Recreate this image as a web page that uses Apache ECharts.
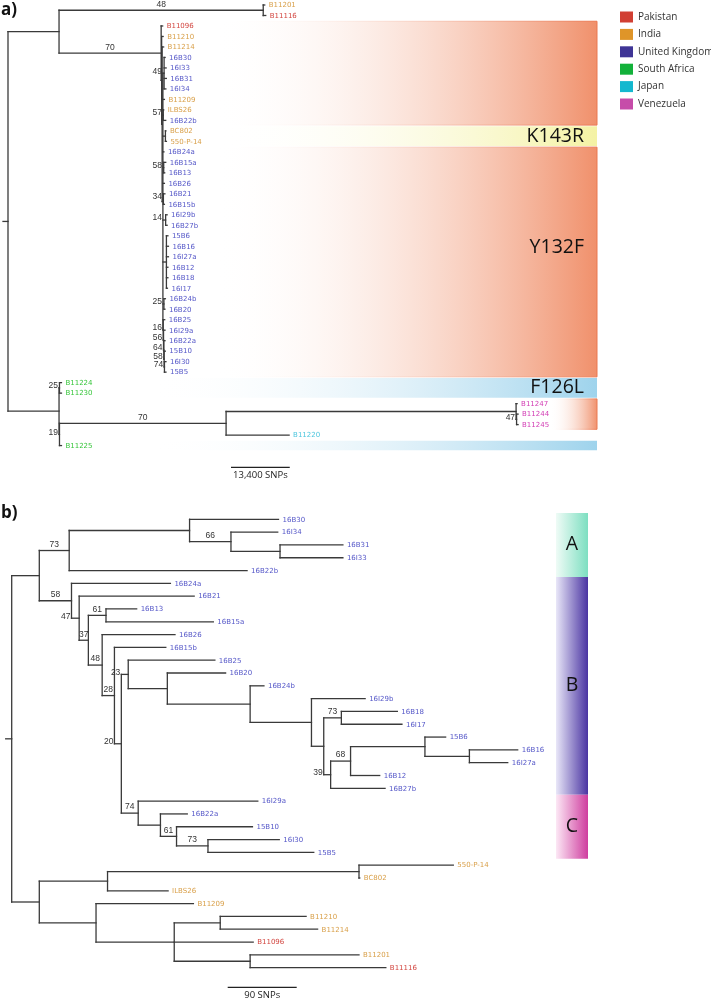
<!DOCTYPE html>
<html>
<head>
<meta charset="utf-8">
<script src="https://cdn.jsdelivr.net/npm/echarts@6/dist/echarts.min.js"></script>
<style>
html,body{margin:0;padding:0;background:#ffffff;}
#chart{width:711px;height:1001px;}
</style>
</head>
<body>
<div id="chart"></div>
<script>
// ================= DATA =================
const countries = ['Pakistan', 'India', 'United Kingdom', 'South Africa', 'Japan', 'Venezuela'];

const samplesPakistan = ['B11096', 'B11116'];
const samplesIndia = ['B11201', 'B11210', 'B11214', 'B11209', 'ILBS26', 'BC802', '550-P-14'];
const samplesUK = ['16B30', '16I33', '16B31', '16I34', '16B22b', '16B24a', '16B15a', '16B13', '16B26',
  '16B21', '16B15b', '16I29b', '16B27b', '15B6', '16B16', '16I27a', '16B12', '16B18', '16I17',
  '16B24b', '16B20', '16B25', '16I29a', '16B22a', '15B10', '16I30', '15B5'];
const samplesSouthAfrica = ['B11224', 'B11230', 'B11225'];
const samplesJapan = ['B11220'];
const samplesVenezuela = ['B11247', 'B11244', 'B11245'];

// Tree a) : [node, parent, branch length (SNPs), bootstrap support]
const treeA_edges = [
  ['A1', 'rootA', 11640], ['A2', 'A1', 46570, 48], ['B11201', 'A2', 340], ['B11116', 'A2', 570],
  ['X', 'A1', 23290, 70], ['B11096', 'X', 340], ['Z', 'X', 110], ['B11210', 'Z', 340], ['W', 'Z', 110],
  ['B11214', 'W', 340], ['V', 'W', 180],
  ['c49', 'V', 270, 49], ['16B30', 'c49', 230], ['16I33', 'c49', 460], ['16B31', 'c49', 520], ['16I34', 'c49', 400],
  ['B11209', 'V', 340],
  ['c57', 'V', 70, 57], ['ILBS26', 'c57', 110], ['16B22b', 'c57', 570],
  ['cK', 'V', 570], ['BC802', 'cK', 110], ['550-P-14', 'cK', 230],
  ['16B24a', 'V', 230],
  ['c58', 'V', 180, 58], ['16B15a', 'c58', 460], ['16B13', 'c58', 230],
  ['16B26', 'V', 340],
  ['c34', 'V', 110, 34], ['16B21', 'c34', 340], ['16B15b', 'c34', 230],
  ['c14', 'V', 620, 14], ['16I29b', 'c14', 340], ['16B27b', 'c14', 340],
  ['cM', 'V', 800], ['15B6', 'cM', 340], ['16B16', 'cM', 460], ['16I27a', 'cM', 460], ['16B12', 'cM', 340],
  ['16B18', 'cM', 340], ['16I17', 'cM', 230],
  ['c25', 'V', 230, 25], ['16B24b', 'c25', 340], ['16B20', 'c25', 230],
  ['c16', 'V', 70, 16], ['16B25', 'c16', 340],
  ['c56', 'c16', 70, 56], ['16I29a', 'c56', 340],
  ['c64', 'c56', 70, 64], ['16B22a', 'c64', 270],
  ['c58b', 'c64', 70, 58], ['15B10', 'c58b', 270],
  ['c74', 'c58b', 70, 74], ['16I30', 'c74', 340], ['15B5', 'c74', 340],
  ['N', 'rootA', 11640],
  ['cSA', 'N', 100, 25], ['B11224', 'cSA', 450], ['B11230', 'cSA', 450],
  ['N2', 'N', 100, 19],
  ['JV', 'N2', 38000, 70],
  ['cV', 'JV', 66140], ['B11247', 'cV', 230], ['cV2', 'cV', 110, 47], ['B11244', 'cV2', 340], ['B11245', 'cV2', 340],
  ['B11220', 'JV', 14370],
  ['B11225', 'N2', 450]
];

// Tree b) : [node, parent, branch length (SNPs), bootstrap support]
const treeB_edges = [
  ['B1', 'rootB', 36], ['B2', 'B1', 39, 73], ['B3', 'B2', 157], ['16B30', 'B3', 116],
  ['B4', 'B3', 54, 66], ['16I34', 'B4', 61], ['B5', 'B4', 64], ['16B31', 'B5', 82], ['16I33', 'B5', 82],
  ['16B22b', 'B2', 232],
  ['B6', 'B1', 42, 58], ['16B24a', 'B6', 129], ['B7', 'B6', 10, 47], ['16B21', 'B7', 150],
  ['B8', 'B7', 12, 37], ['B9', 'B8', 23, 61], ['16B13', 'B9', 40], ['16B15a', 'B9', 140],
  ['B10', 'B8', 18, 48], ['16B26', 'B10', 95], ['B11', 'B10', 16, 28], ['16B15b', 'B11', 67],
  ['B12', 'B11', 9, 20], ['B13', 'B12', 9, 23], ['16B25', 'B13', 113], ['B14', 'B13', 51],
  ['16B20', 'B14', 76], ['B15', 'B14', 108], ['16B24b', 'B15', 18], ['B16', 'B15', 80],
  ['16I29b', 'B16', 70], ['B17', 'B16', 16], ['B18', 'B17', 23, 73], ['16B18', 'B18', 73], ['16I17', 'B18', 79],
  ['B19', 'B17', 9, 39], ['B20', 'B19', 26, 68], ['B21', 'B20', 97], ['15B6', 'B21', 27], ['B22', 'B21', 58],
  ['16B16', 'B22', 63], ['16I27a', 'B22', 50], ['16B12', 'B20', 38], ['16B27b', 'B19', 71],
  ['B23', 'B12', 22, 74], ['16I29a', 'B23', 156], ['B24', 'B23', 29], ['16B22a', 'B24', 35],
  ['B25', 'B24', 21, 61], ['15B10', 'B25', 99], ['B26', 'B25', 41, 73], ['16I30', 'B26', 93], ['15B5', 'B26', 138],
  ['B30', 'rootB', 36], ['B31', 'B30', 89], ['B32', 'B31', 328], ['550-P-14', 'B32', 123], ['BC802', 'B32', 1],
  ['ILBS26', 'B31', 79], ['B33', 'B30', 74], ['B11209', 'B33', 127], ['B34', 'B33', 102],
  ['B35', 'B34', 60], ['B11210', 'B35', 112], ['B11214', 'B35', 127], ['B11096', 'B34', 103],
  ['B36', 'B34', 99], ['B11201', 'B36', 142], ['B11116', 'B36', 177]
];

const scaleBarA = 13400;   // SNPs
const scaleBarB = 90;      // SNPs

// mutation blocks in tree a): [mutation, first sample, last sample]
const mutationBands = [
  ['Y132F', 'B11096', '16B22b'],
  ['K143R', 'BC802', '550-P-14'],
  ['Y132F', '16B24a', '15B5'],
  ['F126L', 'B11224', 'B11230'],
  ['Y132F', 'B11247', 'B11245'],
  ['F126L', 'B11225', 'B11225']
];
const mutationLabelShown = [false, true, true, true, false, false];

// clades in tree b): [clade, first sample, last sample]
const cladeBars = [
  ['A', '16B30', '16B22b'],
  ['B', '16B24a', '16B27b'],
  ['C', '16I29a', '15B5']
];

// ================= STYLE / LAYOUT =================
const countryColors = ['#d13f33', '#df9529', '#3f3596', '#12b13a', '#14b8cf', '#c64ca9'];
const labelColors = ['#d2453f', '#d9a04a', '#5557c8', '#38c63c', '#4ec6de', '#d23cb4'];
const LAY = {
  a: { left: 8, top: 5, rowH: 10.49, snpPerPx: 228.07, xMax: 135000, stubPx: 5 },
  b: { left: 11.7, top: 519.3, rowH: 12.81, snpPerPx: 90 / 69, xMax: 760, stubPx: 6 }
};
const bandStartPx = [215, 215, 215, 150, 550, 150];
const bandEndPx = 597;
const bandStyle = {
  'Y132F': { fill: '#f0906b', stroke: '#ea774f' },
  'K143R': { fill: '#f4f2a4', stroke: null },
  'F126L': { fill: '#9ed3ec', stroke: null }
};
const bandLabelDy = [0, 0, -15, 0, 0, 0];
const cladePx = [556, 588];
const cladeColors = { A: ['#effbf6', '#7ddfc1'], B: ['#e9e7f8', '#4a34a2'], C: ['#fce8f5', '#cf3d9f'] };
const BRANCH = '#3a3a3a';
const LEAF_FONT = '7px "DejaVu Sans"';
const SUP_FONT = '8.5px "Liberation Sans", Arial, sans-serif';

// ================= BUILD =================
const sampleCountry = {};
[samplesPakistan, samplesIndia, samplesUK, samplesSouthAfrica, samplesJapan, samplesVenezuela]
  .forEach((arr, ci) => arr.forEach(s => { sampleCountry[s] = ci; }));

function layoutTree(edges, rootId) {
  const children = {}, len = {}, sup = {}, parent = {};
  edges.forEach(e => {
    const [c, p, l, s] = e;
    (children[p] = children[p] || []).push(c);
    len[c] = l; parent[c] = p;
    if (s != null) sup[c] = s;
  });
  const x = {}, y = {}, leaves = [];
  let k = 0;
  (function walk(n, d) {
    x[n] = d;
    const ch = children[n];
    if (!ch) { y[n] = k++; leaves.push(n); return; }
    ch.forEach(c => walk(c, d + len[c]));
    y[n] = (y[ch[0]] + y[ch[ch.length - 1]]) / 2;
  })(rootId, 0);
  return { children, len, sup, parent, x, y, leaves, root: rootId };
}

const TA = layoutTree(treeA_edges, 'rootA');
const TB = layoutTree(treeB_edges, 'rootB');

function segmentsOf(T, L) {
  const segs = [];
  Object.keys(T.children).forEach(n => {
    const ch = T.children[n];
    segs.push([T.x[n], T.y[ch[0]], T.x[n], T.y[ch[ch.length - 1]]]);
    ch.forEach(c => segs.push([T.x[n], T.y[c], T.x[c], T.y[c]]));
  });
  segs.push([-L.stubPx * L.snpPerPx, T.y[T.root], 0, T.y[T.root]]);
  return segs;
}

function leafTexts(T) {
  return T.leaves.map(l => ({
    x: T.x[l], y: T.y[l], text: l, color: labelColors[sampleCountry[l]],
    font: LEAF_FONT, align: 'left', dx: 4, dy: 0.5
  }));
}

function supportTexts(T, L) {
  const out = [];
  Object.keys(T.sup).forEach(c => {
    const p = T.parent[c];
    const bpx = T.len[c] / L.snpPerPx;
    if (bpx >= 8.5) {
      out.push({ x: (T.x[p] + T.x[c]) / 2, y: T.y[c], text: String(T.sup[c]), color: '#333',
        font: SUP_FONT, align: 'center', dx: 0, dy: -6 });
    } else {
      out.push({ x: T.x[p], y: T.y[c], text: String(T.sup[c]), color: '#333',
        font: SUP_FONT, align: 'right', dx: -1, dy: -2 });
    }
  });
  return out;
}

function lineSeries(gi, segs) {
  return {
    type: 'custom', xAxisIndex: gi, yAxisIndex: gi, silent: true, z: 3, clip: false,
    data: segs, encode: { x: [0, 2], y: [1, 3] },
    renderItem: (p, api) => {
      const a = api.coord([api.value(0), api.value(1)]);
      const b = api.coord([api.value(2), api.value(3)]);
      return { type: 'line', shape: { x1: a[0], y1: a[1], x2: b[0], y2: b[1] },
        style: { stroke: BRANCH, lineWidth: 1.3, lineCap: 'square' } };
    }
  };
}

function textSeries(gi, items) {
  return {
    type: 'custom', xAxisIndex: gi, yAxisIndex: gi, silent: true, z: 4, clip: false,
    data: items.map(t => [t.x, t.y]), encode: { x: 0, y: 1 },
    renderItem: (p, api) => {
      const t = items[p.dataIndex];
      const pt = api.coord([api.value(0), api.value(1)]);
      return { type: 'text', x: pt[0] + t.dx, y: pt[1] + t.dy,
        style: { text: t.text, fill: t.color, font: t.font, align: t.align, verticalAlign: 'middle' } };
    }
  };
}

function scaleBarSeries(gi, T, L, len, px0, py0) {
  const x0 = (px0 - L.left) * L.snpPerPx;
  const y0 = (py0 - L.top) / L.rowH;
  return {
    type: 'custom', xAxisIndex: gi, yAxisIndex: gi, silent: true, z: 4, clip: false,
    data: [[x0, y0, x0 + len, y0]], encode: { x: [0, 2], y: [1, 3] },
    renderItem: (p, api) => {
      const a = api.coord([api.value(0), api.value(1)]);
      const b = api.coord([api.value(2), api.value(3)]);
      return { type: 'group', children: [
        { type: 'line', shape: { x1: a[0], y1: a[1], x2: b[0], y2: b[1] }, style: { stroke: '#222', lineWidth: 1.2 } },
        { type: 'text', x: (a[0] + b[0]) / 2, y: a[1] + 8,
          style: { text: len.toLocaleString('en-US') + ' SNPs', fill: '#222', font: '9.5px "Open Sans"',
            align: 'center', verticalAlign: 'middle' } }
      ] };
    }
  };
}

function grad(c0, c1) {
  return { type: 'linear', x: 0, y: 0, x2: 1, y2: 0, global: false,
    colorStops: [{ offset: 0, color: c0 }, { offset: 1, color: c1 }] };
}

const LA = LAY.a, LB = LAY.b;
const bandSeries = {
  type: 'custom', xAxisIndex: 0, yAxisIndex: 0, silent: true, z: 1, clip: false,
  data: mutationBands.map((b, i) => [
    (bandStartPx[i] - LA.left) * LA.snpPerPx, TA.y[b[1]] - 0.45,
    (bandEndPx - LA.left) * LA.snpPerPx, TA.y[b[2]] + 0.45]),
  encode: { x: [0, 2], y: [1, 3] },
  renderItem: (p, api) => {
    const i = p.dataIndex, m = mutationBands[i][0], st = bandStyle[m];
    const a = api.coord([api.value(0), api.value(1)]);
    const b = api.coord([api.value(2), api.value(3)]);
    const kids = [{
      type: 'rect', shape: { x: a[0], y: a[1], width: b[0] - a[0], height: b[1] - a[1] },
      style: { fill: grad('rgba(255,255,255,0)', st.fill),
        stroke: st.stroke ? grad('rgba(255,255,255,0)', st.stroke) : null, lineWidth: 1 }
    }];
    if (mutationLabelShown[i]) {
      kids.push({ type: 'text', x: b[0] - 13, y: (a[1] + b[1]) / 2 + bandLabelDy[i],
        style: { text: m, fill: '#111', font: '19.5px "Open Sans"', align: 'right', verticalAlign: 'middle' } });
    }
    return { type: 'group', children: kids };
  }
};

const cladeSeries = {
  type: 'custom', xAxisIndex: 1, yAxisIndex: 1, silent: true, z: 1, clip: false,
  data: cladeBars.map(c => [
    (cladePx[0] - LB.left) * LB.snpPerPx, TB.y[c[1]] - 0.5,
    (cladePx[1] - LB.left) * LB.snpPerPx, TB.y[c[2]] + 0.5]),
  encode: { x: [0, 2], y: [1, 3] },
  renderItem: (p, api) => {
    const c = cladeBars[p.dataIndex][0], col = cladeColors[c];
    const a = api.coord([api.value(0), api.value(1)]);
    const b = api.coord([api.value(2), api.value(3)]);
    return { type: 'group', children: [
      { type: 'rect', shape: { x: a[0], y: a[1], width: b[0] - a[0], height: b[1] - a[1] },
        style: { fill: grad(col[0], col[1]) } },
      { type: 'text', x: (a[0] + b[0]) / 2, y: (a[1] + b[1]) / 2,
        style: { text: c, fill: '#111', font: '19.5px "Open Sans"', align: 'center', verticalAlign: 'middle' } }
    ] };
  }
};

const option = {
  animation: false,
  backgroundColor: '#ffffff',
  grid: [
    { left: LA.left, top: LA.top, width: LA.xMax / LA.snpPerPx, height: (TA.leaves.length - 1) * LA.rowH },
    { left: LB.left, top: LB.top, width: LB.xMax / LB.snpPerPx, height: (TB.leaves.length - 1) * LB.rowH }
  ],
  xAxis: [
    { type: 'value', gridIndex: 0, min: 0, max: LA.xMax, show: false },
    { type: 'value', gridIndex: 1, min: 0, max: LB.xMax, show: false }
  ],
  yAxis: [
    { type: 'value', gridIndex: 0, min: 0, max: TA.leaves.length - 1, inverse: true, show: false },
    { type: 'value', gridIndex: 1, min: 0, max: TB.leaves.length - 1, inverse: true, show: false }
  ],
  legend: {
    left: 615, top: 6, orient: 'vertical', icon: 'rect', itemWidth: 13, itemHeight: 11, itemGap: 5.4,
    selectedMode: false, data: countries,
    textStyle: { fontSize: 10, fontFamily: '"Open Sans"', color: '#333', lineHeight: 12 }
  },
  graphic: [
    { type: 'text', left: 1, top: 2, style: { text: 'a)', font: 'bold 17px "Open Sans"', fill: '#111' } },
    { type: 'text', left: 1, top: 505, style: { text: 'b)', font: 'bold 17px "Open Sans"', fill: '#111' } }
  ],
  series: [
    bandSeries,
    cladeSeries,
    lineSeries(0, segmentsOf(TA, LA)),
    lineSeries(1, segmentsOf(TB, LB)),
    textSeries(0, leafTexts(TA)),
    textSeries(1, leafTexts(TB)),
    textSeries(0, supportTexts(TA, LA)),
    textSeries(1, supportTexts(TB, LB)),
    scaleBarSeries(0, TA, LA, scaleBarA, 231, 467.3),
    scaleBarSeries(1, TB, LB, scaleBarB, 227.7, 987.3)
  ].concat(countries.map((n, i) => ({
    type: 'line', name: n, data: [], xAxisIndex: 0, yAxisIndex: 0,
    itemStyle: { color: countryColors[i] }, lineStyle: { color: countryColors[i] }
  })))
};

const chart = echarts.init(document.getElementById('chart'), null, { renderer: 'canvas' });
chart.setOption(option);
</script>
</body>
</html>
